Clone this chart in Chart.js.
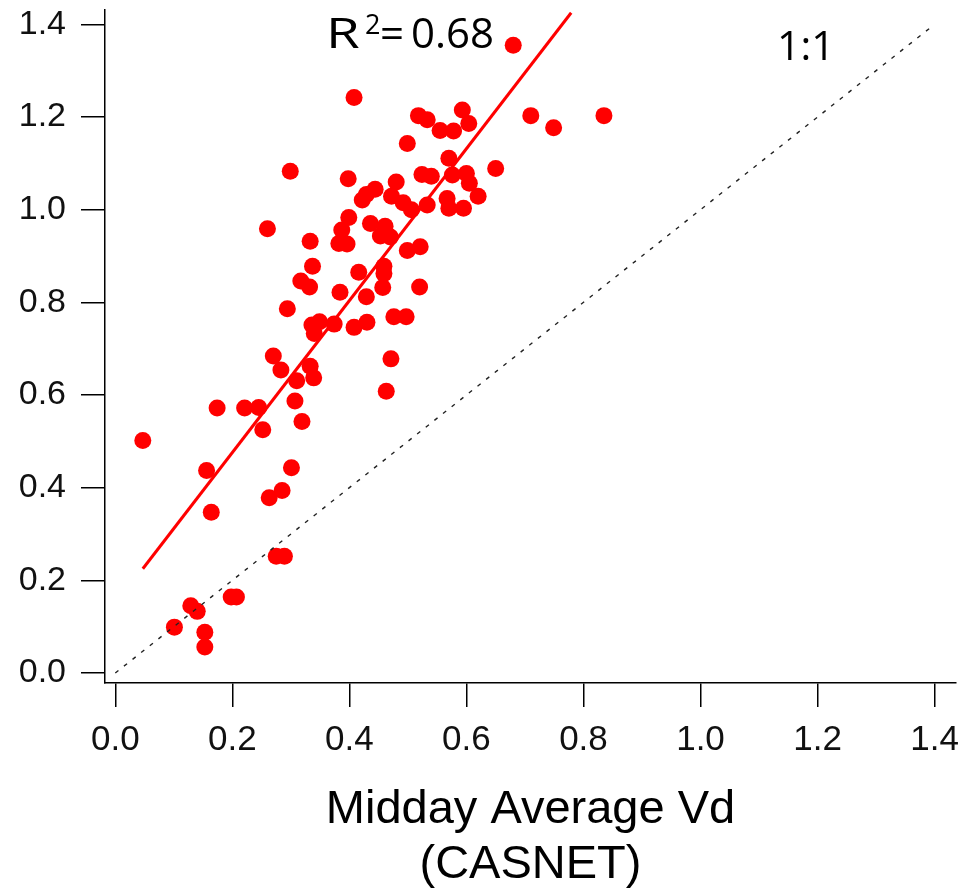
<!DOCTYPE html>
<html>
<head>
<meta charset="utf-8">
<title>Midday Average Vd</title>
<script src="https://cdn.jsdelivr.net/npm/chart.js@4.4.1/dist/chart.umd.min.js"></script>
<style>
  html, body { margin: 0; padding: 0; background: #fff; }
  #wrap { width: 975px; height: 889px; }
</style>
</head>
<body>
<div id="wrap"><canvas id="vd-chart" width="975" height="889"></canvas></div>
<script>
// midday Vd: CASNET (x) against model (y)
const casnetVd = [
  0.680, 0.408, 0.518, 0.533, 0.593, 0.604, 0.555, 0.578, 0.710, 0.749,
  0.835, 0.499, 0.570, 0.650, 0.299, 0.524, 0.540, 0.398, 0.480, 0.444,
  0.429, 0.422, 0.472, 0.492, 0.506, 0.533, 0.567, 0.570, 0.595, 0.576,
  0.600, 0.605, 0.620, 0.260, 0.333, 0.399, 0.387, 0.382, 0.396, 0.436,
  0.461, 0.453, 0.470, 0.499, 0.521, 0.337, 0.317, 0.332, 0.416, 0.459,
  0.459, 0.384, 0.429, 0.457, 0.520, 0.294, 0.336, 0.349, 0.340, 0.374,
  0.408, 0.430, 0.476, 0.497, 0.270, 0.283, 0.333, 0.339, 0.310, 0.471,
  0.463, 0.307, 0.174, 0.221, 0.245, 0.252, 0.319, 0.047, 0.156, 0.301,
  0.285, 0.263, 0.164, 0.275, 0.289, 0.198, 0.207, 0.129, 0.140, 0.101,
  0.153, 0.153
];
const modelVd = [
  1.355, 1.242, 1.203, 1.194, 1.215, 1.186, 1.171, 1.170, 1.203, 1.177,
  1.203, 1.143, 1.111, 1.089, 1.083, 1.076, 1.072, 1.067, 1.060, 1.044,
  1.033, 1.021, 1.029, 1.015, 1.000, 1.010, 1.024, 1.003, 1.003, 1.075,
  1.078, 1.057, 1.029, 0.959, 0.932, 0.983, 0.956, 0.927, 0.926, 0.970,
  0.964, 0.943, 0.941, 0.912, 0.920, 0.878, 0.846, 0.833, 0.865, 0.878,
  0.862, 0.822, 0.812, 0.832, 0.833, 0.786, 0.751, 0.758, 0.733, 0.753,
  0.746, 0.757, 0.769, 0.769, 0.684, 0.654, 0.662, 0.637, 0.631, 0.678,
  0.608, 0.587, 0.572, 0.572, 0.573, 0.525, 0.543, 0.502, 0.437, 0.443,
  0.394, 0.378, 0.347, 0.252, 0.252, 0.164, 0.164, 0.145, 0.133, 0.099,
  0.088, 0.056
];

// least squares fit, endpoints
const fitX = [0.047, 0.779];
const fitY = [0.225, 1.425];

// 1:1 reference
const oneToOneX = [0, 1.4];
const oneToOneY = [0, 1.4];

const tickValues = [0, 0.2, 0.4, 0.6, 0.8, 1.0, 1.2, 1.4];
const rSquaredText = "0.68";

const pairs = (xs, ys) => xs.map((x, i) => ({ x, y: ys[i] }));

const sans = "'Liberation Sans', Arial, sans-serif";

// R² and 1:1 captions
const captions = {
  id: "captions",
  afterDraw(chart) {
    const ctx = chart.ctx;
    ctx.save();
    ctx.fillStyle = "#000";
    ctx.textAlign = "left";
    ctx.textBaseline = "alphabetic";
    ctx.font = "42px 'Open Sans', sans-serif";
    ctx.save();
    ctx.translate(326, 48);
    ctx.scale(1.3, 1);
    ctx.fillText("R", 0, 0);
    ctx.restore();
    ctx.font = "27px 'Open Sans', sans-serif";
    ctx.fillText("2", 365, 34);
    ctx.font = "42px 'Open Sans', sans-serif";
    ctx.fillText("=", 380, 48);
    ctx.fillText(rSquaredText, 411, 48);
    ctx.font = "41px 'Open Sans', sans-serif";
    ctx.fillText("1:1", 777, 60);
    ctx.restore();
  },
};

function setTicks(scale) {
  scale.ticks = tickValues.map((v) => ({ value: v }));
}

// keep the plot box fixed, ignore the label overhang padding
function noPad(scale) {
  scale.paddingTop = 0;
  scale.paddingBottom = 0;
  scale.paddingLeft = 0;
  scale.paddingRight = 0;
}

new Chart(document.getElementById("vd-chart"), {
  type: "scatter",
  data: {
    datasets: [
      {
        data: pairs(oneToOneX, oneToOneY),
        showLine: true,
        borderColor: "#222",
        borderWidth: 1.4,
        borderDash: [4, 7],
        pointRadius: 0,
      },
      {
        data: pairs(fitX, fitY),
        showLine: true,
        borderColor: "#ff0000",
        borderWidth: 3,
        pointRadius: 0,
      },
      {
        data: pairs(casnetVd, modelVd),
        backgroundColor: "#ff0000",
        borderWidth: 0,
        pointRadius: 8.5,
      },
    ],
  },
  options: {
    responsive: false,
    animation: false,
    events: [],
    layout: { padding: { top: 10, right: 19, left: 0, bottom: 0 } },
    plugins: { legend: { display: false }, tooltip: { enabled: false } },
    scales: {
      x: {
        type: "linear",
        min: -0.0176,
        max: 1.4366,
        afterBuildTicks: setTicks,
        afterFit: (s) => { s.height = 206; noPad(s); },
        border: { display: true, color: "#000", width: 1.5 },
        grid: { drawOnChartArea: false, drawTicks: true, tickLength: 24, color: "#000", lineWidth: 1.5 },
        ticks: {
          padding: 12,
          color: "#111",
          font: { family: sans, size: 35 },
          maxRotation: 0,
          callback: (v) => v.toFixed(1),
        },
        title: {
          display: true,
          text: ["Midday Average Vd", "(CASNET)"],
          color: "#000",
          font: { family: sans, size: 47, lineHeight: 1.17 },
          padding: { top: 0, bottom: -4 },
        },
      },
      y: {
        type: "linear",
        min: -0.0216,
        max: 1.431,
        afterBuildTicks: setTicks,
        afterFit: (s) => { s.width = 105; noPad(s); },
        border: { display: true, color: "#000", width: 1.5 },
        grid: { drawOnChartArea: false, drawTicks: true, tickLength: 24, color: "#000", lineWidth: 1.5 },
        ticks: {
          padding: 15,
          color: "#111",
          font: { family: sans, size: 34 },
          callback: (v) => v.toFixed(1),
        },
      },
    },
  },
  plugins: [captions],
});
</script>
</body>
</html>
